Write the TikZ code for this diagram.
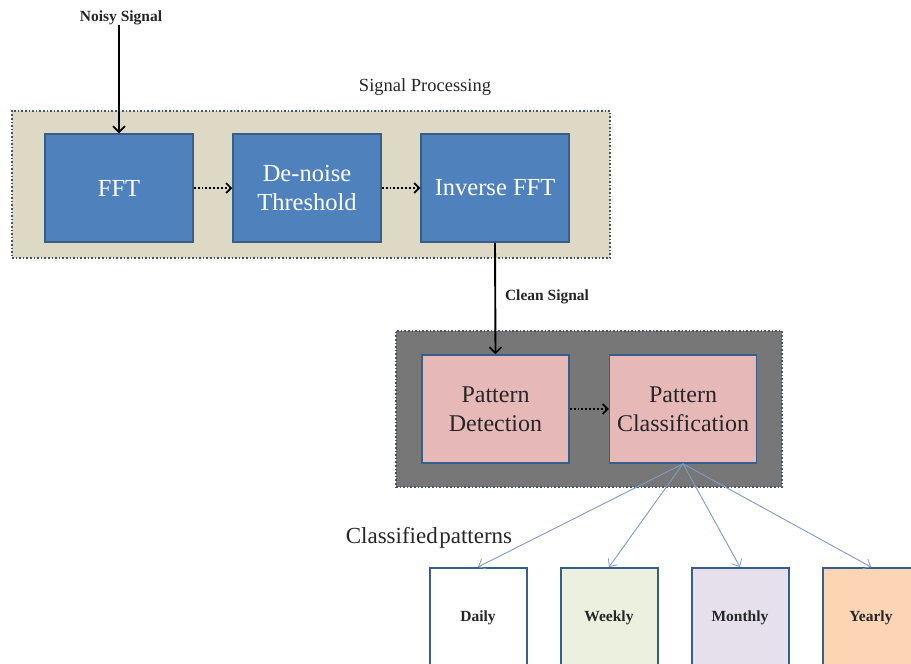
\documentclass[tikz,border=0pt]{standalone}
\usepackage{fontspec}
\setmainfont{Liberation Serif}
\usetikzlibrary{arrows.meta}
\definecolor{boxblue}{HTML}{4F81BD}
\definecolor{boxedge}{HTML}{385D8A}
\definecolor{tanfill}{HTML}{DDD9C4}
\definecolor{grayfill}{HTML}{777777}
\definecolor{dotedge}{HTML}{44546A}
\definecolor{pinkfill}{HTML}{E6B9B8}
\definecolor{greenfill}{HTML}{EBF1DE}
\definecolor{lilacfill}{HTML}{E5E0EC}
\definecolor{peachfill}{HTML}{FCD5B5}
\definecolor{fanline}{HTML}{7F9BC4}
\definecolor{darktext}{HTML}{262626}
\tikzset{
  container/.style={draw=dotedge, line width=1.6pt, dotted, inner sep=0pt},
  bluebox/.style={draw=boxedge, fill=boxblue, line width=1.5pt, minimum width=148pt, minimum height=108pt,
     text=white, font=\fontsize{24.5}{29}\selectfont, align=center, inner sep=0pt},
  pinkbox/.style={draw=boxedge, fill=pinkfill, line width=1.5pt, minimum width=147pt, minimum height=108pt,
     text=darktext, font=\fontsize{24}{29}\selectfont, align=center, inner sep=0pt},
  classbox/.style={draw=boxedge, line width=2pt, minimum width=97pt, minimum height=100pt,
     text=darktext, font=\bfseries\fontsize{15.5}{18}\selectfont, inner sep=0pt},
  smalllabel/.style={font=\bfseries\fontsize{15.5}{18}\selectfont, text=darktext, inner sep=0pt},
  mainarrow/.style={line width=1.9pt, -{Straight Barb[length=6pt,width=12pt,line width=1.7pt]}},
  dotarrow/.style={line width=1.9pt, dotted, -{Straight Barb[length=5pt,width=10pt,line width=1.7pt]}},
  fanarrow/.style={draw=fanline, line width=0.9pt, -{Straight Barb[length=6pt,width=11pt,line width=0.8pt]}}
}
\begin{document}
\begin{tikzpicture}[x=1pt,y=-1pt]
\useasboundingbox (0,0) rectangle (911,664);
\clip (0,0) rectangle (911,664);
\fill[white] (0,0) rectangle (911,664);

% containers
\node[container, fill=tanfill, minimum width=598pt, minimum height=147pt] (spbox) at (311,184.5) {};
\node[container, fill=grayfill, minimum width=386pt, minimum height=156pt] (pbox) at (589,409) {};

% labels
\node[smalllabel] (noisy) at (121,18) {Noisy Signal};
\node[font=\fontsize{18.5}{21}\selectfont, text=darktext, inner sep=0pt] (sptitle) at (425,87) {Signal Processing};
\node[smalllabel] (clean) at (547,297) {Clean Signal};
\node[font=\fontsize{23}{26}\selectfont, text=darktext, inner sep=0pt] (classified) at (429,538) {Classified\hspace{1.5pt}patterns};

% processing boxes
\node[bluebox] (fft) at (119,188) {FFT};
\node[bluebox] (dn) at (307,188) {De-noise\\Threshold};
\node[bluebox] (ifft) at (495,188) {Inverse FFT};

\node[pinkbox] (pd) at (495.5,409) {Pattern\\Detection};
\node[pinkbox] (pc) at (683,409) {Pattern\\Classification};

% classified boxes
\node[classbox, fill=white] (daily) at (478,618) {Daily};
\node[classbox, fill=greenfill] (weekly) at (609,618) {Weekly};
\node[classbox, fill=lilacfill] (monthly) at (740,618) {Monthly};
\node[classbox, fill=peachfill] (yearly) at (871,618) {Yearly};

% connectors
\draw[mainarrow] (noisy.south -| fft.north) -- (fft.north);
\draw[dotarrow] (fft.east) -- (dn.west);
\draw[dotarrow] (dn.east) -- (ifft.west);
\draw[mainarrow] (ifft.south) -- (pd.north);
\draw[dotarrow] (pd.east) -- (pc.west);

\draw[fanarrow] (pc.south) -- (daily.north);
\draw[fanarrow] (pc.south) -- (weekly.north);
\draw[fanarrow] (pc.south) -- (monthly.north);
\draw[fanarrow] (pc.south) -- (yearly.north);
\end{tikzpicture}
\end{document}
